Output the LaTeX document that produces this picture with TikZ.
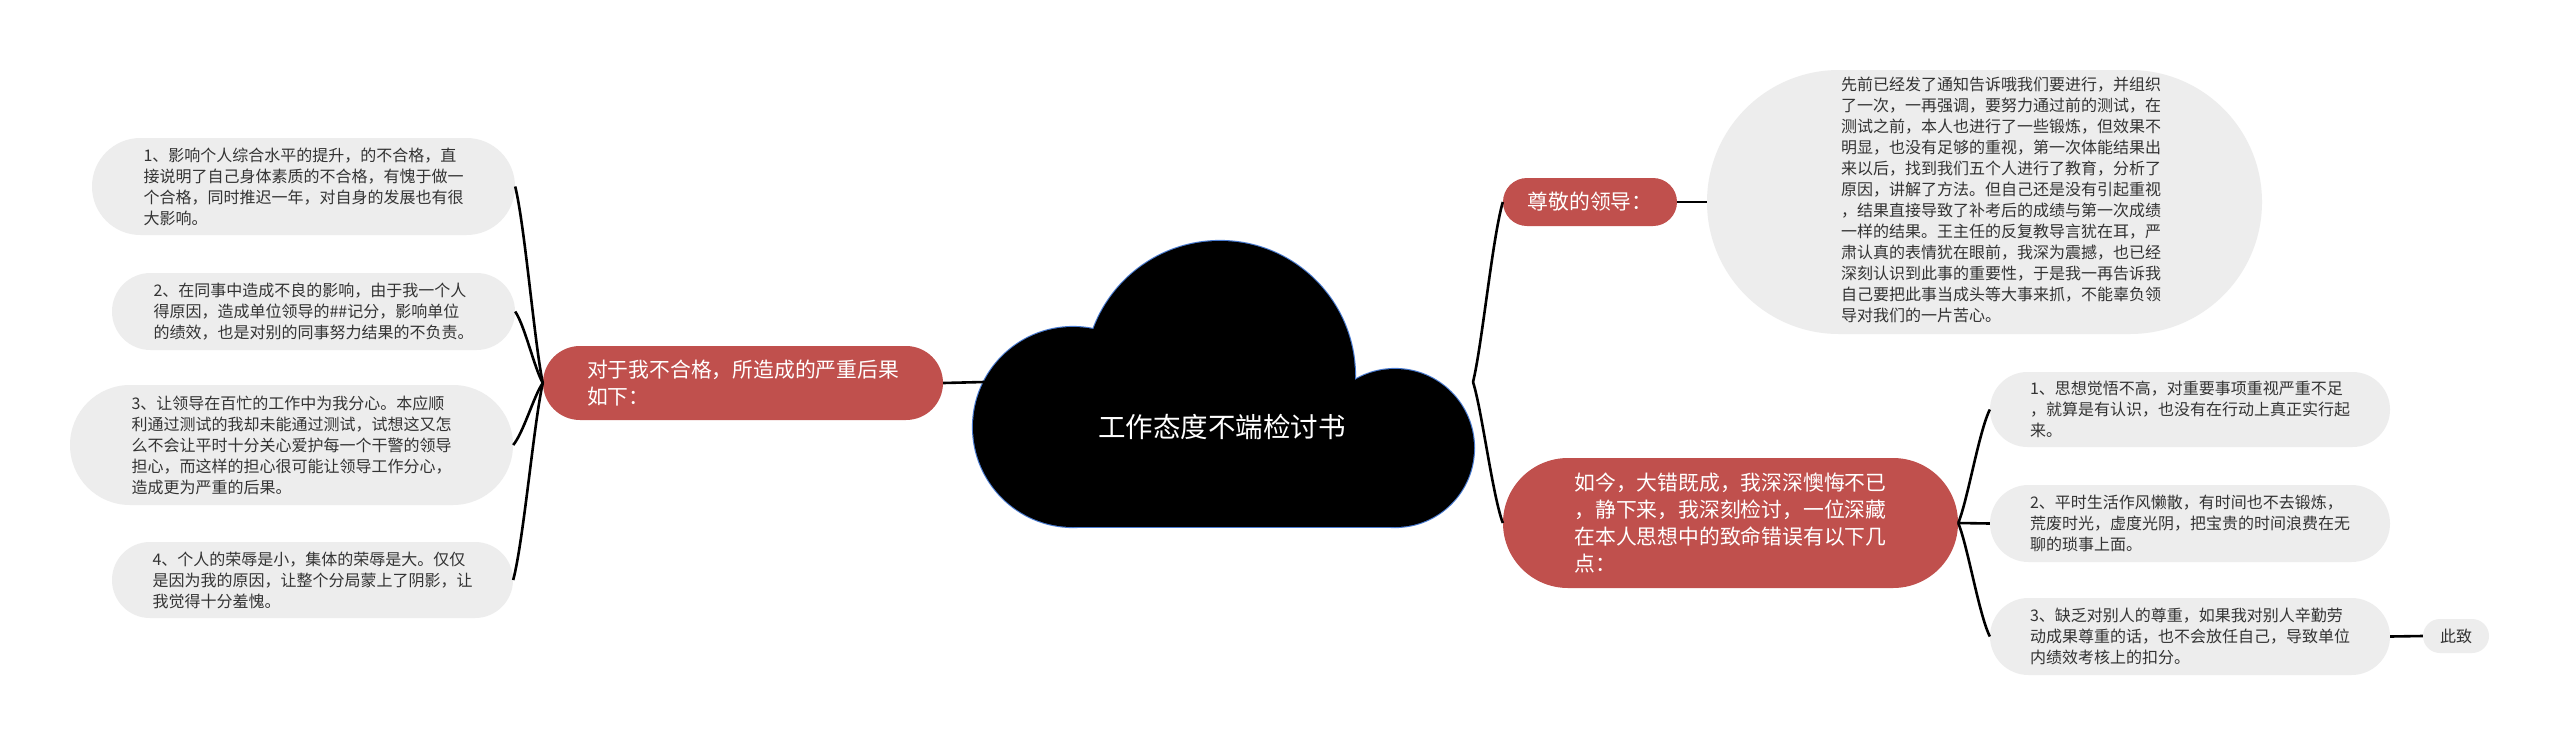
\documentclass[tikz,border=0pt]{standalone}
\usepackage{fontspec}
\setmainfont{Noto Sans CJK SC}
\usetikzlibrary{shapes.misc,calc}
\definecolor{mmred}{HTML}{C0504D}
\definecolor{mmgrey}{HTML}{EDEDED}
\definecolor{mmtext}{HTML}{333333}
\definecolor{mmblue}{HTML}{4A7BD0}
\newcommand\mmconn[2]{\draw[conn] let \p1=(#1), \p2=(#2) in (\p1) .. controls ({\x1+0.3*(\x2-\x1)},{\y1+0.2*(\y2-\y1)}) and ({\x2-0.35*(\x2-\x1)},{\y2-0.2*(\y2-\y1)}) .. (\p2);}
\begin{document}
\begin{tikzpicture}[x=1pt,y=-1pt,
  greynode/.style={rounded rectangle, fill=mmgrey, inner sep=0pt, align=left, text=mmtext, font=\fontsize{16}{21}\selectfont},
  rednode/.style={rounded rectangle, fill=mmred, inner sep=0pt, align=left, text=white, font=\fontsize{20.8}{27}\selectfont},
  conn/.style={line width=2.6pt, draw=black}]
\fill[white] (0,0) rectangle (2560,745);
\useasboundingbox (0,0) rectangle (2560,745);

% cloud
\draw[mmblue, line width=2.2pt] (1073,427) circle[radius=100];
\draw[mmblue, line width=2.2pt] (1220,376) circle[radius=135];
\draw[mmblue, line width=2.2pt] (1395,448) circle[radius=79];
\draw[mmblue, line width=2.2pt] (1073,527) -- (1395,527);
\fill[black] (1073,427) circle[radius=100];
\fill[black] (1220,376) circle[radius=135];
\fill[black] (1395,448) circle[radius=79];
\fill[black] (1073,420) rectangle (1395,527);
\node[text=white, font=\fontsize{27.5}{32}\selectfont] (title) at (1222,427) {工作态度不端检讨书};
\coordinate (cloudL) at (984,382);
\coordinate (hubR) at (1473,382);

% left side
\node[rednode, minimum width=400pt, minimum height=74pt] (LR) at (743,383) {对于我不合格，所造成的严重后果\\如下：};
\node[greynode, minimum width=423pt, minimum height=97pt] (L1) at (303.5,186.5) {1、影响个人综合水平的提升，的不合格，直\\接说明了自己身体素质的不合格，有愧于做一\\个合格，同时推迟一年，对自身的发展也有很\\大影响。};
\node[greynode, minimum width=403pt, minimum height=77pt] (L2) at (313.5,311.5) {2、在同事中造成不良的影响，由于我一个人\\得原因，造成单位领导的\#\#记分，影响单位\\的绩效，也是对别的同事努力结果的不负责。};
\node[greynode, minimum width=443pt, minimum height=120pt] (L3) at (291.5,445) {3、让领导在百忙的工作中为我分心。本应顺\\利通过测试的我却未能通过测试，试想这又怎\\么不会让平时十分关心爱护每一个干警的领导\\担心，而这样的担心很可能让领导工作分心，\\造成更为严重的后果。};
\node[greynode, minimum width=401pt, minimum height=76pt] (L4) at (312.5,580) {4、个人的荣辱是小，集体的荣辱是大。仅仅\\是因为我的原因，让整个分局蒙上了阴影，让\\我觉得十分羞愧。};

% right side
\node[rednode, minimum width=174pt, minimum height=48pt] (R1) at (1590,202) {尊敬的领导：};
\node[greynode, align=center, minimum width=555pt, minimum height=264pt] (B) at (1984.5,202) {\hspace*{33pt}\begin{tabular}{@{}l@{}}先前已经发了通知告诉哦我们要进行，并组织\\了一次，一再强调，要努力通过前的测试，在\\测试之前，本人也进行了一些锻炼，但效果不\\明显，也没有足够的重视，第一次体能结果出\\来以后，找到我们五个人进行了教育，分析了\\原因，讲解了方法。但自己还是没有引起重视\\，结果直接导致了补考后的成绩与第一次成绩\\一样的结果。王主任的反复教导言犹在耳，严\\肃认真的表情犹在眼前，我深为震撼，也已经\\深刻认识到此事的重要性，于是我一再告诉我\\自己要把此事当成头等大事来抓，不能辜负领\\导对我们的一片苦心。\end{tabular}};
\node[rednode, minimum width=455pt, minimum height=130pt] (R2) at (1730.5,523) {如今，大错既成，我深深懊悔不已\\，静下来，我深刻检讨，一位深藏\\在本人思想中的致命错误有以下几\\点：};
\node[greynode, minimum width=400pt, minimum height=75pt] (G1) at (2190,409.5) {1、思想觉悟不高，对重要事项重视严重不足\\，就算是有认识，也没有在行动上真正实行起\\来。};
\node[greynode, minimum width=400pt, minimum height=77pt] (G2) at (2190,523.5) {2、平时生活作风懒散，有时间也不去锻炼，\\荒废时光，虚度光阴，把宝贵的时间浪费在无\\聊的琐事上面。};
\node[greynode, minimum width=400pt, minimum height=77pt] (G3) at (2190,636.5) {3、缺乏对别人的尊重，如果我对别人辛勤劳\\动成果尊重的话，也不会放任自己，导致单位\\内绩效考核上的扣分。};
\node[greynode, minimum width=66pt, minimum height=34pt] (CZ) at (2456,636) {此致};

% connectors
\draw[conn] (LR.east) -- (cloudL);
\mmconn{LR.west}{L1.east}
\mmconn{LR.west}{L2.east}
\mmconn{LR.west}{L3.east}
\mmconn{LR.west}{L4.east}
\mmconn{hubR}{R1.west}
\mmconn{hubR}{R2.west}
\draw[conn] (R1.east) -- (B.west);
\mmconn{R2.east}{G1.west}
\draw[conn] (R2.east) -- (G2.west);
\mmconn{R2.east}{G3.west}
\draw[conn] (G3.east) -- (CZ.west);
\end{tikzpicture}
\end{document}
